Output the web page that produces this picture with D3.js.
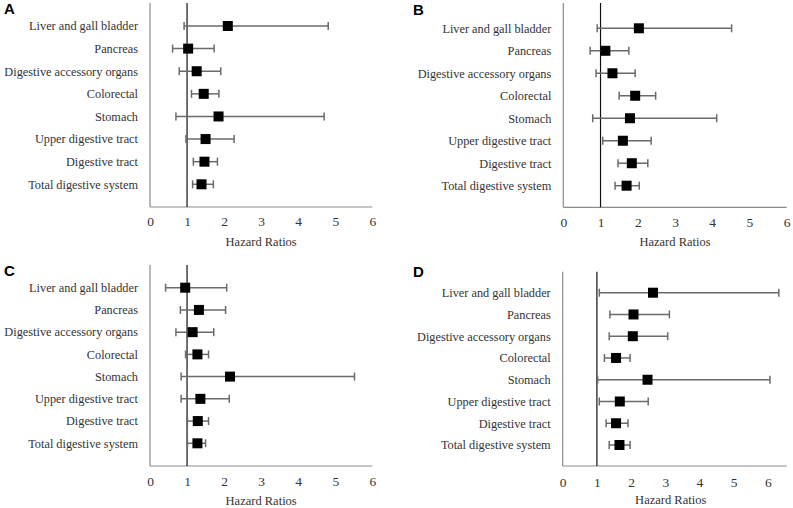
<!DOCTYPE html>
<html>
<head>
<meta charset="utf-8">
<script src="https://cdn.jsdelivr.net/npm/d3@7"></script>
<style>
  html, body { margin: 0; padding: 0; background: #fff; }
  svg { display: block; }
</style>
</head>
<body>
<svg id="chart" width="793" height="508"></svg>
<script>
// ---- data ----
const categories = ["Liver and gall bladder", "Pancreas", "Digestive accessory organs", "Colorectal",
  "Stomach", "Upper digestive tract", "Digestive tract", "Total digestive system"];
const xTicks = [0, 1, 2, 3, 4, 5, 6];
const panelNames = ["A", "B", "C", "D"];

const hrA = [2.10, 1.03, 1.26, 1.45, 1.85, 1.50, 1.47, 1.39];
const loA = [0.92, 0.61, 0.79, 1.12, 0.70, 0.97, 1.17, 1.15];
const hiA = [4.81, 1.73, 1.91, 1.86, 4.70, 2.27, 1.82, 1.71];

const hrB = [2.03, 1.13, 1.32, 1.93, 1.79, 1.60, 1.84, 1.70];
const loB = [0.91, 0.72, 0.88, 1.50, 0.79, 1.06, 1.47, 1.39];
const hiB = [4.52, 1.76, 1.93, 2.48, 4.12, 2.36, 2.27, 2.04];

const hrC = [0.95, 1.32, 1.15, 1.28, 2.16, 1.36, 1.29, 1.28];
const loC = [0.42, 0.82, 0.70, 0.96, 0.84, 0.84, 1.01, 1.01];
const hiC = [2.07, 2.04, 1.72, 1.58, 5.52, 2.14, 1.58, 1.50];

const hrD = [2.64, 2.07, 2.05, 1.56, 2.48, 1.67, 1.56, 1.66];
const loD = [1.07, 1.38, 1.36, 1.22, 1.02, 1.07, 1.27, 1.36];
const hiD = [6.32, 3.12, 3.07, 1.97, 6.06, 2.50, 1.91, 1.97];

const refValue = 1;
const xMax = [6, 6, 6, 6.55];

// ---- layout ----
const layout = [
  { left: 150, right: 372.3, top: 3, bottom: 207, rowTop: 26, rowBot: 184.3, tickY: 226, titleY: 246, lx: 4, ly: 13.5 },
  { left: 563.3, right: 786.7, top: 3, bottom: 207.3, rowTop: 28.3, rowBot: 185.7, tickY: 227, titleY: 246, lx: 413, ly: 15 },
  { left: 150, right: 372.3, top: 265, bottom: 466, rowTop: 287.7, rowBot: 443.3, tickY: 486, titleY: 505, lx: 4, ly: 276 },
  { left: 562.7, right: 786.7, top: 271.7, bottom: 466, rowTop: 292.7, rowBot: 445, tickY: 487, titleY: 504, lx: 413, ly: 277 }
];

const seriesHR = [hrA, hrB, hrC, hrD];
const seriesLo = [loA, loB, loC, loD];
const seriesHi = [hiA, hiB, hiC, hiD];

const svg = d3.select("#chart");
const serif = "'Liberation Serif', 'DejaVu Serif', serif";
const textCol = "#333";
const axisCol = "#8a8a8a";
const barCol = "#6a6a6a";
const markerSize = 10;
const capH = 8;

panelNames.forEach((name, i) => {
  const L = layout[i];
  const x = d3.scaleLinear().domain([0, xMax[i]]).range([L.left, L.right]);
  const y = d3.scalePoint().domain(categories).range([L.rowTop, L.rowBot]);
  const g = svg.append("g");

  // panel letter
  g.append("text").attr("x", L.lx).attr("y", L.ly)
    .attr("font-family", "'Liberation Sans', Arial, sans-serif")
    .attr("font-weight", "bold").attr("font-size", 15).attr("fill", "#000")
    .text(name);

  // axes lines
  g.append("line").attr("x1", L.left).attr("x2", L.left).attr("y1", L.top).attr("y2", L.bottom)
    .attr("stroke", axisCol).attr("stroke-width", 1.2);
  g.append("line").attr("x1", L.left).attr("x2", L.right).attr("y1", L.bottom).attr("y2", L.bottom)
    .attr("stroke", axisCol).attr("stroke-width", 1.2);

  // x tick labels
  const ax = d3.axisBottom(x).tickValues(xTicks).tickSize(0).tickFormat(d3.format("d"));
  const axG = g.append("g").attr("transform", `translate(0,${L.bottom})`).call(ax);
  axG.select(".domain").remove();
  axG.selectAll("text")
    .attr("y", L.tickY - L.bottom).attr("dy", 0)
    .attr("font-family", serif).attr("font-size", 13.5).attr("fill", textCol);

  // axis title
  g.append("text").attr("x", (L.left + L.right) / 2 - (i === 3 ? 4 : 0)).attr("y", L.titleY)
    .attr("text-anchor", "middle").attr("font-family", serif).attr("font-size", 12.5)
    .attr("fill", textCol).text("Hazard Ratios");

  // category labels
  g.selectAll("text.cat").data(categories).join("text").attr("class", "cat")
    .attr("x", L.left - 12).attr("y", d => y(d)).attr("dy", "0.35em")
    .attr("text-anchor", "end").attr("font-family", serif).attr("font-size", 12.3)
    .attr("fill", textCol).text(d => d);

  // reference line
  g.append("line").attr("x1", x(refValue)).attr("x2", x(refValue))
    .attr("y1", L.top).attr("y2", L.bottom).attr("stroke", "#111").attr("stroke-width", 1.2);

  const rows = categories.map((c, k) => ({ c, hr: seriesHR[i][k], lo: seriesLo[i][k], hi: seriesHi[i][k] }));

  // error bars
  g.selectAll("line.ci").data(rows).join("line").attr("class", "ci")
    .attr("x1", d => x(d.lo)).attr("x2", d => x(d.hi))
    .attr("y1", d => y(d.c)).attr("y2", d => y(d.c))
    .attr("stroke", barCol).attr("stroke-width", 1.5);
  g.selectAll("line.capL").data(rows).join("line").attr("class", "capL")
    .attr("x1", d => x(d.lo)).attr("x2", d => x(d.lo))
    .attr("y1", d => y(d.c) - capH / 2).attr("y2", d => y(d.c) + capH / 2)
    .attr("stroke", barCol).attr("stroke-width", 1.5);
  g.selectAll("line.capR").data(rows).join("line").attr("class", "capR")
    .attr("x1", d => x(d.hi)).attr("x2", d => x(d.hi))
    .attr("y1", d => y(d.c) - capH / 2).attr("y2", d => y(d.c) + capH / 2)
    .attr("stroke", barCol).attr("stroke-width", 1.5);

  // markers
  g.selectAll("rect.hr").data(rows).join("rect").attr("class", "hr")
    .attr("x", d => x(d.hr) - markerSize / 2).attr("y", d => y(d.c) - markerSize / 2)
    .attr("width", markerSize).attr("height", markerSize).attr("fill", "#000");
});
</script>
</body>
</html>
